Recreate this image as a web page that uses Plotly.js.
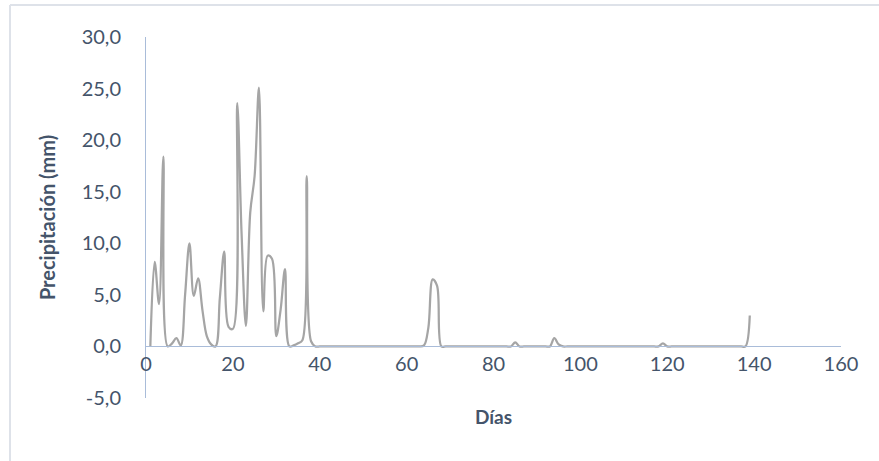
<!DOCTYPE html>
<html>
<head>
<meta charset="utf-8">
<script src="https://cdn.plot.ly/plotly-3.0.1.min.js"></script>
<style>
html,body{margin:0;padding:0;background:#fff;}
#chart{width:879px;height:461px;}
</style>
</head>
<body>
<div id="chart"></div>
<script>
// Days 1..139 and daily precipitation (mm)
const dias = [];
for (let d = 1; d <= 139; d++) dias.push(d);

const precipitacionInicial = [
  0, 8.2, 4.1, 18.4, 0, 0.3, 0.8, 0.1, 5.0, 10.0,
  4.9, 6.6, 3.5, 1.0, 0.2, 0, 4.7, 9.2, 1.9, 1.7,
  23.6, 11.0, 2.0, 13.0, 16.5, 25.1, 3.4, 8.8, 8.5, 1.0,
  3.6, 7.5, 0, 0.1, 0.3, 0.6, 16.5, 0.5, 0
]; // days 1-39

const precipitacionEventos = {
  64: 0.1, 65: 1.8, 66: 6.5, 67: 5.9,
  85: 0.4, 94: 0.8, 95: 0.2, 119: 0.3, 139: 3.0
};

const precipitacion = dias.map(d =>
  d <= precipitacionInicial.length ? precipitacionInicial[d - 1]
                                   : (precipitacionEventos[d] !== undefined ? precipitacionEventos[d] : 0));

const xTicks = [0, 20, 40, 60, 80, 100, 120, 140, 160];
const yTicks = [-5, 0, 5, 10, 15, 20, 25, 30];
const yTickLabels = yTicks.map(v => v.toFixed(1).replace('.', ','));

const textColor = '#44546A';
const axisColor = '#A9BCD9';
const fontFam = 'Lato, "Open Sans", sans-serif';

const trace = {
  x: dias,
  y: precipitacion,
  type: 'scatter',
  mode: 'lines',
  line: {color: '#A5A5A5', width: 2.25, shape: 'spline', smoothing: 1},
  hoverinfo: 'x+y'
};

const layout = {
  width: 879,
  height: 461,
  margin: {l: 146, r: 38, t: 37, b: 63},
  paper_bgcolor: '#ffffff',
  plot_bgcolor: '#ffffff',
  showlegend: false,
  font: {family: fontFam, color: textColor, size: 20},
  xaxis: {
    range: [0, 160],
    tickvals: xTicks,
    ticktext: xTicks.map(String),
    showgrid: false,
    zeroline: false,
    showline: true,
    linecolor: axisColor,
    linewidth: 1,
    ticks: '',
    anchor: 'free',
    position: 5 / 35,
    tickfont: {family: fontFam, size: 20, color: textColor},
    title: {text: '<b>Días</b>', font: {family: fontFam, size: 19, color: textColor}, standoff: 36},
    automargin: false
  },
  yaxis: {
    range: [-5, 30],
    tickvals: yTicks,
    ticktext: yTickLabels,
    showgrid: false,
    zeroline: false,
    showline: true,
    linecolor: axisColor,
    linewidth: 1,
    ticks: '',
    ticklabelstandoff: 20,
    tickfont: {family: fontFam, size: 20, color: textColor},
    title: {text: '<b>Precipitación (mm)</b>', font: {family: fontFam, size: 20, color: textColor}, standoff: 20},
    automargin: false
  },
  shapes: [
    {type: 'line', xref: 'paper', yref: 'paper', x0: -0.1957, x1: 1.2, y0: 1.0886, y1: 1.0886,
     line: {color: '#DEE2E9', width: 2}},
    {type: 'line', xref: 'paper', yref: 'paper', x0: -0.1957, x1: -0.1957, y0: 1.0886, y1: -0.3,
     line: {color: '#DEE2E9', width: 2}}
  ]
};

Plotly.newPlot('chart', [trace], layout, {displayModeBar: false, staticPlot: true});
</script>
</body>
</html>
